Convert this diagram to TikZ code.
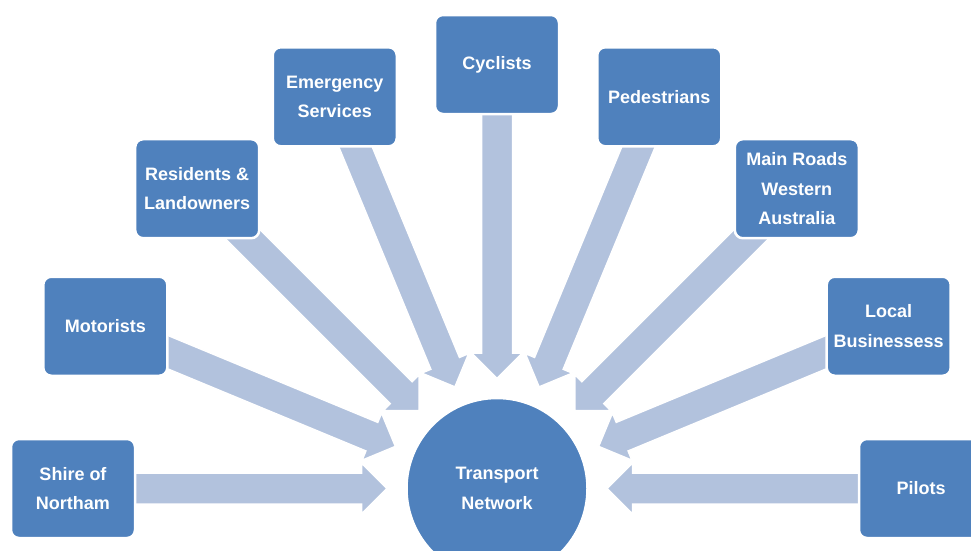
\documentclass[tikz,border=0pt]{standalone}
\usepackage{fontspec}
\setmainfont{Liberation Sans}
\usepackage{tikz}
\usetikzlibrary{calc,backgrounds}

\definecolor{boxblue}{HTML}{4F81BD}
\definecolor{flowblue}{HTML}{B2C2DD}

\tikzset{
    party/.style={draw=white, line width=2.5pt, fill=boxblue, rounded corners=8pt,
        minimum width=124pt, minimum height=99pt, inner sep=0pt,
        text=white, align=center, font=\bfseries\fontsize{18}{29.5}\selectfont},
    hub/.style={circle, draw=white, line width=2.5pt, fill=boxblue,
        minimum size=181pt, inner sep=0pt,
        text=white, align=center, font=\bfseries\fontsize{18}{29.5}\selectfont},
    flow/.style={fill=flowblue, draw=white, line width=1.5pt, line join=miter}
}

% block arrow from the centre of node #1 to the tip #2
\newcommand{\blockarrow}[2]{%
    \coordinate (hb) at ($(#2)!25.5pt!(#1.center)$);
    \path[flow] ($(#1.center)!15.5pt!90:(#2)$) -- ($(hb)!15.5pt!-90:(#1.center)$)
        -- ($(hb)!25.5pt!-90:(#1.center)$) -- (#2) -- ($(hb)!25.5pt!90:(#1.center)$)
        -- ($(hb)!15.5pt!90:(#1.center)$) -- ($(#1.center)!15.5pt!-90:(#2)$) -- cycle;
}

\begin{document}
\begin{tikzpicture}[x=1pt,y=1pt]
    \useasboundingbox (0,0) rectangle (971,-550);

    % Hub
    \node[hub] (net) at (497,-488.5) {Transport\\Network};

    % Stakeholders
    \foreach \a/\name/\txt in {180/shire/{Shire of\\Northam},
                               157.5/motor/Motorists,
                               135/resid/{Residents \&\\Landowners},
                               112.5/emerg/{Emergency\\Services},
                               90/cycle/Cyclists,
                               67.5/pedes/Pedestrians,
                               45/mainrd/{Main Roads\\Western\\Australia},
                               22.5/local/{Local\\Businessess},
                               0/pilot/Pilots} {
        \node[party] (\name) at ($(net)+(\a:424)$) {\txt};
    }

    % Arrows
    \begin{scope}[on background layer]
        \fill[white] (0,0) rectangle (971,-550);
        \foreach \name in {shire,motor,resid,emerg,cycle,pedes,mainrd,local,pilot} {
            \coordinate (t-\name) at ($(net.center)!110pt!(\name.center)$);
            \blockarrow{\name}{t-\name}
        }
    \end{scope}
\end{tikzpicture}
\end{document}
